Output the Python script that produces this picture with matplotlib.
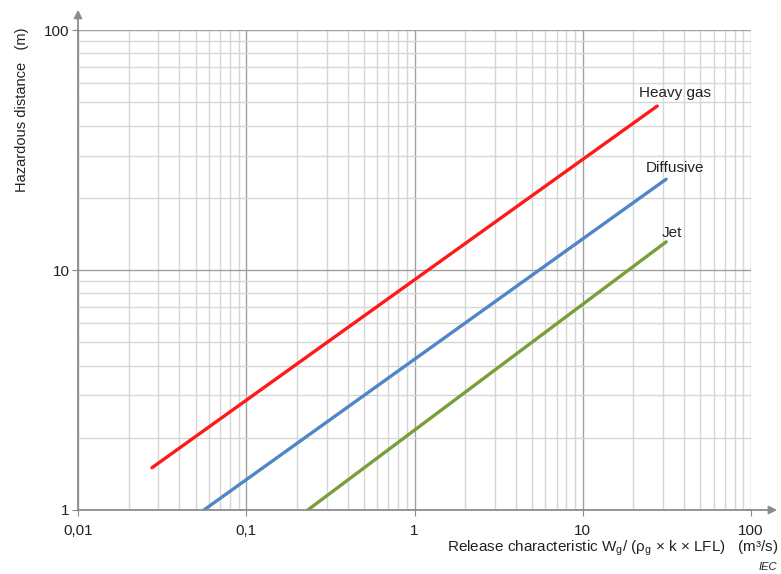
import matplotlib
matplotlib.use("Agg")
import matplotlib.pyplot as plt
from matplotlib.ticker import LogLocator, NullFormatter

plt.rcParams['font.family'] = ['Liberation Sans', 'DejaVu Sans']

# data
heavy_x = [0.0275, 27.7]
heavy_y = [1.5, 48.2]
diff_x = [0.056, 31.3]
diff_y = [1.0, 23.9]
jet_x = [0.232, 31.3]
jet_y = [1.0, 13.1]

xticks = [0.01, 0.1, 1, 10, 100]
xticklabels = ["0,01", "0,1", "1", "10", "100"]
yticks = [1, 10, 100]
yticklabels = ["1", "10", "100"]

fig = plt.figure(figsize=(7.81, 5.74), dpi=100)
ax = fig.add_axes([0.0999, 0.1115, 0.8617, 0.8362])
ax.set_xscale('log')
ax.set_yscale('log')
ax.set_xlim(0.01, 100)
ax.set_ylim(1, 100)

ax.plot(heavy_x, heavy_y, color='#ff1a1a', lw=2.4, solid_capstyle='round')
ax.plot(diff_x, diff_y, color='#4f86c6', lw=2.4, solid_capstyle='round')
ax.plot(jet_x, jet_y, color='#7a9e3a', lw=2.4, solid_capstyle='round')

ax.set_xticks(xticks)
ax.set_xticklabels(xticklabels)
ax.set_yticks(yticks)
ax.set_yticklabels(yticklabels)
ax.xaxis.set_minor_locator(LogLocator(base=10, subs=range(2, 10)))
ax.yaxis.set_minor_locator(LogLocator(base=10, subs=range(2, 10)))
ax.xaxis.set_minor_formatter(NullFormatter())
ax.yaxis.set_minor_formatter(NullFormatter())

ax.grid(which='major', color='#a0a0a0', lw=1.0)
ax.grid(which='minor', color='#d6d6d6', lw=1.0)
ax.set_axisbelow(True)
ax.tick_params(which='major', length=4, color='#888888', labelsize=11, labelcolor='#222222')
ax.tick_params(axis='x', which='major', pad=6)
ax.tick_params(axis='y', which='major', pad=2)
ax.tick_params(which='minor', length=0)

for s in ['top', 'right']:
    ax.spines[s].set_visible(False)
for s in ['left', 'bottom']:
    ax.spines[s].set_color('#8c8c8c')
    ax.spines[s].set_linewidth(1.3)

# arrows
ax.annotate('', xy=(0, 1.048), xytext=(0, 0.99), xycoords='axes fraction',
            arrowprops=dict(arrowstyle='-|>', color='#8c8c8c', lw=1.3, mutation_scale=12))
ax.annotate('', xy=(1.043, 0), xytext=(0.99, 0), xycoords='axes fraction',
            arrowprops=dict(arrowstyle='-|>', color='#8c8c8c', lw=1.3, mutation_scale=12))

# labels
ax.text(21.6, 54.6, 'Heavy gas', fontsize=11, color='#222222', ha='left', va='center')
ax.text(23.8, 26.6, 'Diffusive', fontsize=11, color='#222222', ha='left', va='center')
ax.text(29.6, 14.3, 'Jet', fontsize=11, color='#222222', ha='left', va='center')

fig.text(0.997, 0.045, r'Release characteristic W$_\mathregular{g}$/ ($\mathregular{\rho}_\mathregular{g}$ × k × LFL)   (m³/s)',
         fontsize=11, color='#222222', ha='right', va='center')
fig.text(0.995, 0.013, 'IEC', fontsize=8, style='italic', color='#222222', ha='right', va='center')
fig.text(0.028, 0.808, 'Hazardous distance   (m)', fontsize=10.5, color='#222222',
         rotation=90, ha='center', va='center')

fig.savefig('out.png', dpi=100)
